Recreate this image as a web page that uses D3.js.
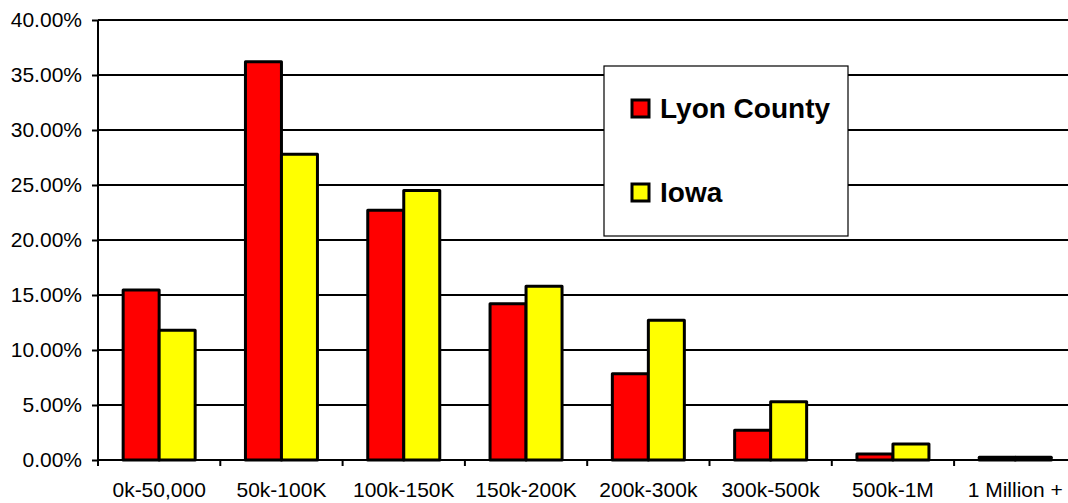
<!DOCTYPE html>
<html>
<head>
<meta charset="utf-8">
<script src="https://cdn.jsdelivr.net/npm/d3@7"></script>
<style>
  html, body { margin: 0; padding: 0; background: #fff; overflow: hidden; }
  svg { display: block; font-family: "Liberation Sans", Arial, sans-serif; }
</style>
</head>
<body>
<svg id="chart" width="1068" height="503"></svg>
<script>
const categories = ["0k-50,000", "50k-100K", "100k-150K", "150k-200K", "200k-300k", "300k-500k", "500k-1M", "1 Million +"];
const seriesNames = ["Lyon County", "Iowa"];
const lyonCounty = [15.45, 36.2, 22.7, 14.2, 7.85, 2.7, 0.55, 0.25];
const iowa = [11.8, 27.8, 24.5, 15.8, 12.7, 5.3, 1.45, 0.25];
const yTicks = [0, 5, 10, 15, 20, 25, 30, 35, 40];
const colors = ["#ff0000", "#ffff00"];

const svg = d3.select("#chart");
const mLeft = 98, mTop = 20, mBottom = 460, mRight = 98 + 8 * 122.3;

const x = d3.scaleBand().domain(categories).range([mLeft, mRight]).paddingInner(0).paddingOuter(0);
const x1 = d3.scaleBand().domain(seriesNames).range([0, 72]);
const y = d3.scaleLinear().domain([0, 40]).range([mBottom, mTop]);

// gridlines
svg.append("g").selectAll("line").data(yTicks.filter(d => d > 0)).join("line")
  .attr("x1", mLeft).attr("x2", mRight)
  .attr("y1", d => y(d)).attr("y2", d => y(d))
  .attr("stroke", "#000").attr("stroke-width", 2);

// y axis
const yAxis = svg.append("g").attr("transform", `translate(${mLeft},0)`)
  .call(d3.axisLeft(y).tickValues(yTicks).tickSize(6).tickPadding(10).tickFormat(d => d.toFixed(2) + "%"));
yAxis.select(".domain").attr("stroke", "#000").attr("stroke-width", 2).attr("d", `M0,${mTop}V${mBottom}`);
yAxis.selectAll(".tick line").attr("stroke", "#000").attr("stroke-width", 2);
yAxis.selectAll(".tick text").attr("font-size", 21).attr("fill", "#000").attr("font-family", "Liberation Sans, Arial, sans-serif");

// x axis
const xAxis = svg.append("g").attr("transform", `translate(0,${mBottom})`)
  .call(d3.axisBottom(x).tickSize(0).tickPadding(22));
xAxis.select(".domain").remove();
xAxis.selectAll(".tick text").attr("font-size", 21).attr("fill", "#000").attr("font-family", "Liberation Sans, Arial, sans-serif");
svg.append("line").attr("x1", mLeft).attr("x2", mRight).attr("y1", mBottom).attr("y2", mBottom)
  .attr("stroke", "#000").attr("stroke-width", 2);
svg.append("g").selectAll("line").data(categories).join("line")
  .attr("x1", d => x(d)).attr("x2", d => x(d))
  .attr("y1", mBottom).attr("y2", mBottom + 6)
  .attr("stroke", "#000").attr("stroke-width", 2);

// bars
const seriesData = [lyonCounty, iowa];
const groups = svg.append("g").selectAll("g").data(categories).join("g")
  .attr("transform", d => `translate(${x(d) + (x.bandwidth() - 72) / 2},0)`);
groups.selectAll("rect").data((d, i) => seriesNames.map((s, j) => ({ s, j, v: seriesData[j][i] }))).join("rect")
  .attr("x", d => x1(d.s))
  .attr("width", x1.bandwidth())
  .attr("y", d => y(d.v))
  .attr("height", d => mBottom - y(d.v))
  .attr("fill", d => colors[d.j])
  .attr("stroke", "#000").attr("stroke-width", 3).attr("stroke-linejoin", "round");

// legend
const lg = svg.append("g");
lg.append("rect").attr("x", 604).attr("y", 66).attr("width", 244).attr("height", 170)
  .attr("fill", "#fff").attr("stroke", "#000").attr("stroke-width", 1.2);
const items = lg.selectAll("g").data(seriesNames).join("g")
  .attr("transform", (d, i) => `translate(632,${100 + i * 84})`);
items.append("rect").attr("width", 17).attr("height", 17)
  .attr("fill", (d, i) => colors[i]).attr("stroke", "#000").attr("stroke-width", 3);
items.append("text").attr("x", 28).attr("y", 18).text(d => d)
  .attr("font-size", 28).attr("font-weight", "bold").attr("fill", "#000");
</script>
</body>
</html>
